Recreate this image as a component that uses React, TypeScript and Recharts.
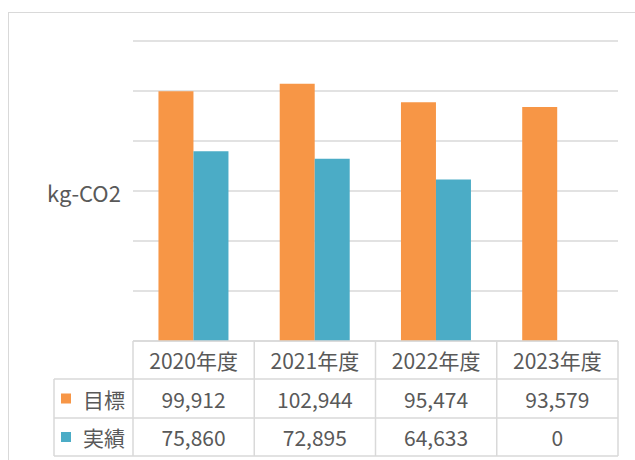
import React from 'react';
import { BarChart, Bar, XAxis, YAxis, CartesianGrid } from 'recharts';

const categories = ['2020年度', '2021年度', '2022年度', '2023年度'];
const targetValues = [99912, 102944, 95474, 93579];
const actualValues = [75860, 72895, 64633, 0];
const seriesNames = ['目標', '実績'];
const yTicks = [0, 20000, 40000, 60000, 80000, 100000, 120000];
const yLabel = 'kg-CO2';

const ORANGE = '#F79646';
const BLUE = '#4BACC6';
const GRID = '#d9d9d9';
const TEXT = '#595959';
const FONT = '"Noto Sans CJK JP", "Noto Sans", sans-serif';

const W = 635;
const H = 460;
const PLOT_LEFT = 133;
const PLOT_RIGHT = 618;
const PLOT_TOP = 41;
const PLOT_BOTTOM = 341;
const ROW_LINES = [341, 379, 418, 456];
const LABEL_LEFT = 54;
const COL_W = (PLOT_RIGHT - PLOT_LEFT) / categories.length;
const AXIS_H = H - PLOT_BOTTOM - 4;

const data = categories.map((c, i) => ({
  name: c,
  target: targetValues[i],
  actual: actualValues[i],
}));

const fmt = (v: number) => v.toLocaleString('en-US');

const TableTick = (props: any) => {
  const { x, payload } = props;
  const i = payload.index;
  const right = x + COL_W / 2;
  const left = x - COL_W / 2;
  const c0 = (ROW_LINES[0] + ROW_LINES[1]) / 2;
  const c1 = (ROW_LINES[1] + ROW_LINES[2]) / 2;
  const c2 = (ROW_LINES[2] + ROW_LINES[3]) / 2;
  const ts = { fontFamily: FONT, fontSize: 21, fill: TEXT } as const;
  return (
    <g>
      {i === 0 && (
        <g>
          <line x1={PLOT_LEFT} x2={PLOT_RIGHT} y1={ROW_LINES[0]} y2={ROW_LINES[0]} stroke={GRID} strokeWidth={1.5} />
          {ROW_LINES.slice(1).map((ry) => (
            <line key={ry} x1={LABEL_LEFT} x2={PLOT_RIGHT} y1={ry} y2={ry} stroke={GRID} strokeWidth={1.5} />
          ))}
          <line x1={LABEL_LEFT} x2={LABEL_LEFT} y1={ROW_LINES[1]} y2={ROW_LINES[3]} stroke={GRID} strokeWidth={1.5} />
          <line x1={left} x2={left} y1={ROW_LINES[0]} y2={ROW_LINES[3]} stroke={GRID} strokeWidth={1.5} />
          <rect x={61} y={c1 - 5} width={10} height={10} fill={ORANGE} />
          <rect x={61} y={c2 - 5} width={10} height={10} fill={BLUE} />
          <text x={83} y={c1} dominantBaseline="central" textAnchor="start" {...ts}>{seriesNames[0]}</text>
          <text x={83} y={c2} dominantBaseline="central" textAnchor="start" {...ts}>{seriesNames[1]}</text>
          <text x={84} y={201.5} textAnchor="middle" fontFamily={FONT} fontSize={22} fill={TEXT}>{yLabel}</text>
        </g>
      )}
      <line x1={right} x2={right} y1={ROW_LINES[0]} y2={ROW_LINES[3]} stroke={GRID} strokeWidth={1.5} />
      <text x={x} y={c0} dominantBaseline="central" textAnchor="middle" {...ts}>{categories[i]}</text>
      <text x={x} y={c1} dominantBaseline="central" textAnchor="middle" {...ts}>{fmt(targetValues[i])}</text>
      <text x={x} y={c2} dominantBaseline="central" textAnchor="middle" {...ts}>{fmt(actualValues[i])}</text>
    </g>
  );
};

export default function App() {
  return (
    <div style={{ position: 'absolute', left: 0, top: 0, width: W, height: H, overflow: 'hidden', background: '#fff' }}>
      <div
        style={{
          position: 'absolute',
          left: 8,
          top: 12,
          width: 900,
          height: 900,
          borderLeft: `1.5px solid ${GRID}`,
          borderTop: `1.5px solid ${GRID}`,
        }}
      />
      <div style={{ position: 'absolute', left: 0, top: 0 }}>
        <BarChart
          width={W}
          height={H}
          data={data}
          margin={{ top: PLOT_TOP, left: PLOT_LEFT, right: W - PLOT_RIGHT, bottom: H - PLOT_BOTTOM - AXIS_H }}
          barCategoryGap="21%"
          barGap={0}
        >
          <CartesianGrid vertical={false} horizontal stroke={GRID} strokeWidth={1.5} />
          <YAxis hide domain={[0, 120000]} ticks={yTicks} />
          <XAxis
            dataKey="name"
            height={AXIS_H}
            axisLine={false}
            tickLine={false}
            tickSize={0}
            tickMargin={0}
            interval={0}
            tick={<TableTick />}
          />
          <Bar dataKey="target" fill={ORANGE} isAnimationActive={false} />
          <Bar dataKey="actual" fill={BLUE} isAnimationActive={false} />
        </BarChart>
      </div>
    </div>
  );
}
